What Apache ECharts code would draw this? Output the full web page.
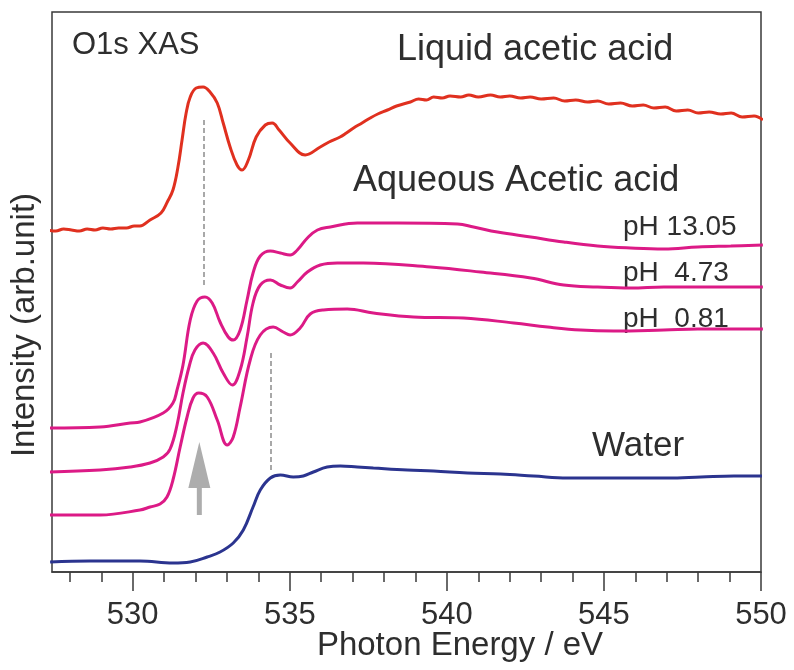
<!DOCTYPE html>
<html>
<head>
<meta charset="utf-8">
<script src="https://cdn.jsdelivr.net/npm/echarts@6/dist/echarts.min.js"></script>
<style>
  html, body { margin: 0; padding: 0; background: #fff; }
  #chart { width: 794px; height: 670px; }
</style>
</head>
<body>
<div id="chart"></div>
<script>
// O1s XAS spectra: liquid acetic acid, aqueous acetic acid at three pH values, water.
// Intensities are in arbitrary units with vertical offsets between the traces.

const majorTicks = [530, 535, 540, 545, 550];
const minorTicks = [528, 529, 531, 532, 533, 534, 536, 537, 538, 539, 541, 542, 543, 544, 546, 547, 548, 549];

// Liquid acetic acid
const liquidE = [527.30, 527.55, 527.80, 528.05, 528.30, 528.55, 528.80, 529.05, 529.30, 529.55, 529.80, 530.05, 530.23,
  530.55, 530.90, 531.10, 531.28, 531.44, 531.57, 531.70, 531.83, 532.02, 532.24, 532.46, 532.69, 532.88, 533.10, 533.32,
  533.48, 533.68, 533.93, 534.22, 534.44, 534.66, 535.01, 535.49, 535.97, 536.25, 536.60, 536.80, 537.03, 537.30, 537.56,
  537.80, 538.11, 538.40, 538.84, 539.10, 539.35, 539.58, 539.85, 540.10, 540.44, 540.70, 541.00, 541.39, 541.70, 542.00,
  542.35, 542.65, 543.00, 543.40, 543.75, 544.10, 544.48, 544.80, 545.15, 545.53, 545.90, 546.25, 546.59, 546.95, 547.30,
  547.67, 548.00, 548.35, 548.72, 549.05, 549.40, 549.78, 550.06];
const liquidI = [3.42, 3.41, 3.43, 3.42, 3.41, 3.43, 3.42, 3.44, 3.43, 3.44, 3.44, 3.46, 3.46,
  3.52, 3.59, 3.70, 3.82, 4.05, 4.32, 4.59, 4.75, 4.84, 4.85, 4.80, 4.69, 4.49, 4.25, 4.07,
  4.02, 4.12, 4.35, 4.47, 4.49, 4.42, 4.29, 4.17, 4.25, 4.30, 4.35, 4.39, 4.44, 4.49, 4.54,
  4.58, 4.62, 4.66, 4.70, 4.73, 4.72, 4.75, 4.74, 4.76, 4.75, 4.77, 4.75, 4.77, 4.75, 4.76,
  4.74, 4.75, 4.73, 4.74, 4.71, 4.72, 4.70, 4.71, 4.68, 4.69, 4.66, 4.67, 4.64, 4.65, 4.61,
  4.62, 4.59, 4.60, 4.58, 4.59, 4.55, 4.56, 4.52];

// Aqueous acetic acid, pH 13.05
const ph1305E = [527.30, 528.96, 529.92, 530.23, 530.97, 531.28, 531.41, 531.60, 531.83, 532.05, 532.30, 532.53, 532.78,
  533.04, 533.20, 533.42, 533.64, 533.83, 534.06, 534.38, 534.70, 535.01, 535.24, 535.56, 535.88, 536.29, 537.15, 538.43,
  540.34, 540.85, 541.61, 542.67, 543.72, 544.80, 545.85, 546.91, 547.99, 549.04, 550.06];
const ph1305I = [1.44, 1.45, 1.49, 1.50, 1.59, 1.69, 1.82, 2.07, 2.52, 2.71, 2.75, 2.69, 2.50,
  2.35, 2.32, 2.42, 2.72, 2.99, 3.16, 3.21, 3.19, 3.17, 3.22, 3.34, 3.42, 3.45, 3.49, 3.49,
  3.48, 3.45, 3.40, 3.35, 3.30, 3.26, 3.24, 3.23, 3.25, 3.26, 3.27];

// Aqueous acetic acid, pH 4.73
const ph473E = [527.30, 528.96, 529.92, 530.55, 530.97, 531.19, 531.41, 531.60, 531.80, 531.98, 532.24, 532.56, 532.88,
  533.17, 533.42, 533.64, 533.83, 534.06, 534.38, 534.70, 535.01, 535.24, 535.56, 535.97, 536.51, 537.34, 539.48, 541.07,
  542.67, 543.72, 544.80, 545.85, 546.91, 547.99, 550.06];
const ph473I = [1.00, 1.02, 1.05, 1.09, 1.15, 1.23, 1.47, 1.79, 2.06, 2.22, 2.29, 2.19, 1.99,
  1.87, 2.02, 2.35, 2.69, 2.87, 2.92, 2.87, 2.84, 2.90, 3.00, 3.07, 3.09, 3.09, 3.05, 3.00,
  2.94, 2.87, 2.85, 2.84, 2.85, 2.85, 2.85];

// Aqueous acetic acid, pH 0.81
const ph081E = [527.30, 528.96, 530.23, 530.55, 530.87, 531.09, 531.28, 531.51, 531.73, 531.92, 532.10, 532.37, 532.69,
  533.01, 533.20, 533.42, 533.74, 534.06, 534.47, 534.79, 535.01, 535.33, 535.65, 536.07, 536.83, 537.66, 538.94, 540.53,
  542.13, 543.21, 544.26, 545.31, 546.91, 547.99, 550.06];
const ph081I = [0.57, 0.57, 0.62, 0.65, 0.68, 0.75, 0.92, 1.25, 1.55, 1.74, 1.79, 1.75, 1.52,
  1.27, 1.35, 1.65, 2.12, 2.37, 2.45, 2.40, 2.37, 2.44, 2.58, 2.62, 2.63, 2.59, 2.55, 2.54,
  2.49, 2.45, 2.42, 2.41, 2.42, 2.43, 2.43];

// Water
const waterE = [527.37, 528.64, 530.23, 531.28, 531.83, 532.37, 532.78, 533.20, 533.52, 533.83, 534.06, 534.38, 534.70,
  535.11, 535.43, 535.75, 536.19, 536.61, 537.15, 537.66, 538.74, 539.58, 540.66, 541.71, 542.76, 543.84, 544.90, 545.95,
  547.03, 548.09, 549.14, 550.03];
const waterI = [0.10, 0.11, 0.11, 0.09, 0.10, 0.15, 0.20, 0.29, 0.42, 0.65, 0.82, 0.94, 0.97,
  0.95, 0.96, 1.00, 1.05, 1.06, 1.05, 1.04, 1.02, 1.01, 0.99, 0.98, 0.96, 0.94, 0.94, 0.94,
  0.94, 0.95, 0.96, 0.96];

// Guide lines at the pi* resonance (532.25 eV) and the water pre-edge (534.4 eV)
const guideLiquid = [[532.25, 4.52], [532.25, 2.84]];
const guideWater = [[534.38, 2.19], [534.38, 1.00]];
// Arrow marking the pi* peak in the aqueous spectra
const arrowPoint = [[532.12, 0.935]];

const phLabels = ['pH 13.05', 'pH  4.73', 'pH  0.81'];

const zip = (xs, ys) => xs.map((x, i) => [x, ys[i]]);

const FONT = '"Liberation Sans", Arial, Helvetica, sans-serif';
const TEXT = '#2e2e2e';
const RED = '#e0301f';
const PINK = '#dc1a86';
const BLUE = '#2b348f';

function lineSeries(name, xs, ys, color) {
  return {
    name: name,
    type: 'line',
    data: zip(xs, ys),
    showSymbol: false,
    smooth: 0.4,
    clip: false,
    lineStyle: { color: color, width: 3 },
    itemStyle: { color: color },
    silent: true,
    z: 3
  };
}

function guide(points) {
  return {
    silent: true,
    symbol: ['none', 'none'],
    label: { show: false },
    lineStyle: { type: [5, 3], color: '#8c8c8c', width: 1.5 },
    data: [[{ coord: points[0] }, { coord: points[1] }]]
  };
}

const chart = echarts.init(document.getElementById('chart'), null, { renderer: 'canvas' });

const liquid = lineSeries('Liquid acetic acid', liquidE, liquidI, RED);
liquid.markLine = guide(guideLiquid);
const water = lineSeries('Water', waterE, waterI, BLUE);
water.markLine = guide(guideWater);

chart.setOption({
  animation: false,
  backgroundColor: '#fff',
  grid: {
    left: 52, right: 33, top: 12, bottom: 98,
    show: true, borderColor: '#3a3a3a', borderWidth: 1.5, backgroundColor: 'transparent'
  },
  xAxis: [
    {
      type: 'value', min: 527.43, max: 550,
      axisLine: { show: true, lineStyle: { color: '#3a3a3a', width: 1.5 } },
      axisTick: { show: true, inside: false, length: 19, customValues: majorTicks, lineStyle: { color: '#3a3a3a', width: 1.5 } },
      axisLabel: { show: true, customValues: majorTicks, margin: 28, fontSize: 31, fontFamily: FONT, color: TEXT },
      splitLine: { show: false }
    },
    {
      type: 'value', min: 527.43, max: 550, position: 'bottom', offset: 0,
      axisLine: { show: false },
      axisTick: { show: true, inside: false, length: 10, customValues: minorTicks, lineStyle: { color: '#3a3a3a', width: 1.5 } },
      axisLabel: { show: false },
      splitLine: { show: false }
    }
  ],
  yAxis: {
    type: 'value', min: 0, max: 5.6,
    axisLine: { show: false }, axisTick: { show: false }, axisLabel: { show: false }, splitLine: { show: false }
  },
  series: [
    liquid,
    lineSeries('pH 13.05', ph1305E, ph1305I, PINK),
    lineSeries('pH 4.73', ph473E, ph473I, PINK),
    lineSeries('pH 0.81', ph081E, ph081I, PINK),
    water,
    {
      name: 'arrow',
      type: 'scatter',
      data: arrowPoint,
      symbol: 'path://M11,0 L22,46 L13.5,46 L13.5,73 L8.5,73 L8.5,46 L0,46 Z',
      symbolKeepAspect: false,
      symbolSize: [22, 73],
      itemStyle: { color: '#999999' },
      silent: true,
      z: 2
    }
  ],
  graphic: [
    { type: 'text', x: 72, y: 45, style: { text: 'O1s XAS', font: '31px ' + FONT, fill: TEXT, textAlign: 'left', textVerticalAlign: 'middle' } },
    { type: 'text', x: 397, y: 50, style: { text: 'Liquid acetic acid', font: '36px ' + FONT, fill: TEXT, textAlign: 'left', textVerticalAlign: 'middle' } },
    { type: 'text', x: 353, y: 181, style: { text: 'Aqueous Acetic acid', font: '36px ' + FONT, fill: TEXT, textAlign: 'left', textVerticalAlign: 'middle' } },
    { type: 'text', x: 623, y: 227, style: { text: phLabels[0], font: '28px ' + FONT, fill: TEXT, textAlign: 'left', textVerticalAlign: 'middle' } },
    { type: 'text', x: 623, y: 273, style: { text: phLabels[1], font: '28px ' + FONT, fill: TEXT, textAlign: 'left', textVerticalAlign: 'middle' } },
    { type: 'text', x: 623, y: 319, style: { text: phLabels[2], font: '28px ' + FONT, fill: TEXT, textAlign: 'left', textVerticalAlign: 'middle' } },
    { type: 'text', x: 592, y: 446, style: { text: 'Water', font: '35px ' + FONT, fill: TEXT, textAlign: 'left', textVerticalAlign: 'middle' } },
    { type: 'text', x: 460, y: 646, style: { text: 'Photon Energy / eV', font: '33px ' + FONT, fill: TEXT, textAlign: 'center', textVerticalAlign: 'middle' } },
    { type: 'text', x: 25, y: 325, rotation: Math.PI / 2, style: { text: 'Intensity (arb.unit)', font: '33px ' + FONT, fill: TEXT, textAlign: 'center', textVerticalAlign: 'middle' } }
  ]
});
</script>
</body>
</html>
